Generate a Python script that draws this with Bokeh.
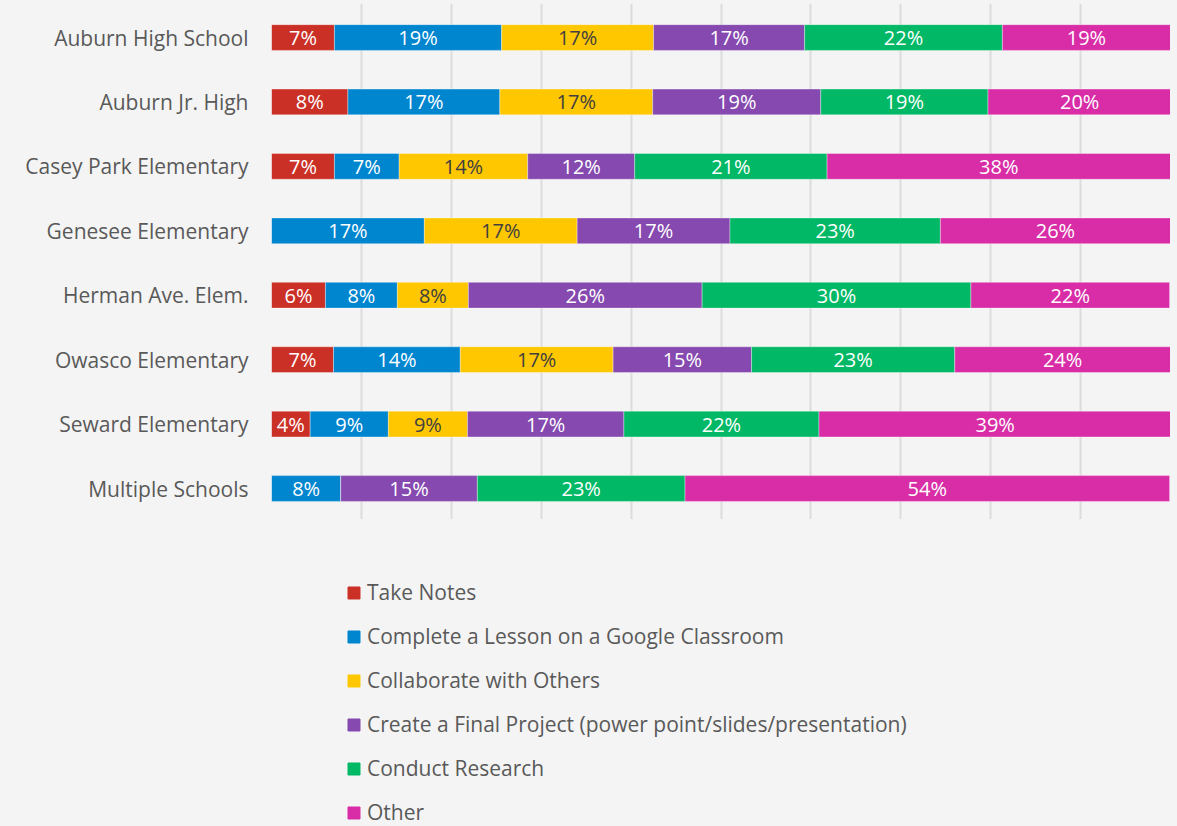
from bokeh.plotting import figure
from bokeh.models import ColumnDataSource, Range1d, FixedTicker, Legend, LegendItem, LabelSet
from bokeh.core.properties import value
from bokeh.layouts import column
from bokeh.embed import file_html
from bokeh.resources import INLINE
import numpy as np

schools = ["Auburn High School", "Auburn Jr. High", "Casey Park Elementary", "Genesee Elementary",
           "Herman Ave. Elem.", "Owasco Elementary", "Seward Elementary", "Multiple Schools"]
series = ["Take Notes", "Complete a Lesson on a Google Classroom", "Collaborate with Others",
          "Create a Final Project (power point/slides/presentation)", "Conduct Research", "Other"]
take_notes = [7.0, 8.5, 7.0, 0.0, 6.0, 6.9, 4.3, 0.0]
google_lesson = [18.6, 16.9, 7.2, 17.0, 8.0, 14.1, 8.7, 7.7]
collaborate = [16.9, 17.0, 14.3, 17.0, 7.9, 17.0, 8.8, 0.0]
final_project = [16.8, 18.7, 11.9, 17.0, 26.0, 15.4, 17.4, 15.2]
research = [22.0, 18.6, 21.4, 23.4, 29.9, 22.6, 21.7, 23.1]
other = [18.7, 20.4, 38.2, 25.6, 22.1, 24.0, 39.2, 53.9]
labels_pct = [
    [7, 8, 7, 0, 6, 7, 4, 0],
    [19, 17, 7, 17, 8, 14, 9, 8],
    [17, 17, 14, 17, 8, 17, 9, 0],
    [17, 19, 12, 17, 26, 15, 17, 15],
    [22, 19, 21, 23, 30, 23, 22, 23],
    [19, 20, 38, 26, 22, 24, 39, 54],
]
colors = ["#CB3027", "#0085CF", "#FFC700", "#8549AF", "#00B865", "#D82DA7"]
label_colors = ["white", "white", "#404040", "white", "white", "white"]

values = [take_notes, google_lesson, collaborate, final_project, research, other]
keys = ["s%d" % i for i in range(len(series))]
ypos = list(range(len(schools)))

data = {"y": ypos}
for k, v in zip(keys, values):
    data[k] = v
source = ColumnDataSource(data)

FONT = "Open Sans"
TXT = "#595959"
BG = "#f4f4f4"

p = figure(width=1170, height=519, output_backend="svg", toolbar_location=None,
           x_range=Range1d(0, 100), y_range=Range1d(7.481, -0.528),
           min_border_left=271, min_border_right=0, min_border_top=3, min_border_bottom=0)
p.background_fill_color = BG
p.border_fill_color = BG
p.outline_line_color = None

renderers = p.hbar_stack(keys, y="y", height=0.4, color=colors, source=source,
                         line_color="white", line_alpha=0.35, line_width=1)

# data labels
arr = np.array(values)
cum = np.cumsum(arr, axis=0)
lx, ly, lt, lc = [], [], [], []
for i in range(arr.shape[0]):
    for j in range(arr.shape[1]):
        v = arr[i, j]
        if v > 0:
            lx.append(cum[i, j] - v / 2)
            ly.append(ypos[j])
            lt.append("%d%%" % labels_pct[i][j])
            lc.append(label_colors[i])
lsrc = ColumnDataSource(dict(x=lx, y=ly, t=lt, c=lc))
labels = LabelSet(x="x", y="y", text="t", source=lsrc, text_color="c", text_align="center",
                  text_baseline="middle", text_font=value(FONT), text_font_size="20px")
p.add_layout(labels)

# axes
p.xaxis.visible = False
p.xgrid.ticker = FixedTicker(ticks=list(range(0, 101, 10)))
p.xgrid.grid_line_color = "#dcdcdc"
p.xgrid.grid_line_width = 2
p.ygrid.visible = False
p.yaxis.ticker = FixedTicker(ticks=ypos)
p.yaxis.major_label_overrides = {i: s for i, s in enumerate(schools)}
p.yaxis.axis_line_color = None
p.yaxis.major_tick_line_color = None
p.yaxis.minor_tick_line_color = None
p.yaxis.major_label_standoff = 17
p.yaxis.major_label_text_font = FONT
p.yaxis.major_label_text_font_size = "21px"
p.yaxis.major_label_text_color = TXT

# legend figure (hidden renderers, legend only)
lg = figure(width=1170, height=307, output_backend="svg", toolbar_location=None,
            x_range=Range1d(0, 100), y_range=Range1d(0, 1),
            min_border_left=271, min_border_right=0, min_border_top=0, min_border_bottom=0)
lg.background_fill_color = BG
lg.border_fill_color = BG
lg.outline_line_color = None
lg.axis.visible = False
lg.grid.visible = False
lrs = []
for k, c in zip(keys, colors):
    r = lg.hbar(y="y", right=k, height=0.4, color=c, source=source)
    r.visible = False
    lrs.append(r)

legend = Legend(items=[LegendItem(label=s, renderers=[r]) for s, r in zip(series, lrs)],
                location=(75, 0), orientation="vertical")
legend.background_fill_alpha = 0
legend.border_line_color = None
legend.inactive_fill_alpha = 0
legend.padding = 0
legend.margin = 0
legend.spacing = 16
legend.glyph_height = 15
legend.glyph_width = 15
legend.label_height = 28
legend.label_standoff = 6
legend.label_text_font = FONT
legend.label_text_font_size = "21px"
legend.label_text_color = TXT
legend.click_policy = "none"
lg.add_layout(legend)

layout = column(p, lg, spacing=0)
html = file_html(layout, INLINE)
html = html.replace("<head>", "<head><style>body{background:#f4f4f4;}</style>", 1)
open("out.html", "w").write(html)
